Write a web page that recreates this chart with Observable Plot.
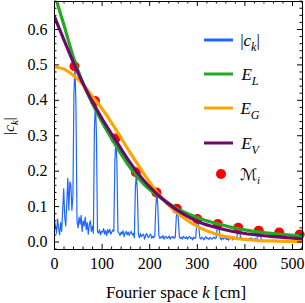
<!DOCTYPE html>
<html><head><meta charset="utf-8">
<script src="https://cdn.jsdelivr.net/npm/d3@7"></script>
<script src="https://cdn.jsdelivr.net/npm/@observablehq/plot@0.6"></script>
<style>body{margin:0;background:#fff;}</style>
</head><body><div id="chart"></div>
<script>
// |c_k| sampled every kStep cm
const kStep = 2.15;
const ckValues = [
  0.060, 0.045, 0.025, 0.065, 0.040, 0.020, 0.055, 0.030, 0.090, 0.150, 0.070, 0.045, 0.110, 0.180, 0.090, 0.170, 0.160, 0.090, 0.130,
  0.42, 0.495, 0.38,
  0.060, 0.040, 0.070, 0.050, 0.075, 0.030, 0.060, 0.045, 0.070, 0.035, 0.055, 0.022, 0.050, 0.060, 0.030, 0.045, 0.025,
  0.32, 0.395, 0.30,
  0.030, 0.025, 0.035, 0.020, 0.030, 0.028, 0.038, 0.022, 0.032, 0.018, 0.035, 0.026, 0.036, 0.022, 0.028, 0.034, 0.030,
  0.23, 0.29, 0.22,
  0.030, 0.025, 0.018, 0.028, 0.022, 0.032, 0.015, 0.025, 0.030, 0.020, 0.028, 0.018, 0.026, 0.030, 0.020, 0.024, 0.012,
  0.15, 0.195, 0.14,
  0.020, 0.012, 0.024, 0.015, 0.020, 0.022, 0.008, 0.018, 0.024, 0.016, 0.012, 0.020, 0.022, 0.010, 0.016, 0.012, 0.018,
  0.10, 0.14, 0.10,
  0.018, 0.010, 0.015, 0.012, 0.018, 0.008, 0.014, 0.016, 0.010, 0.012, 0.017, 0.008, 0.014, 0.012, 0.016, 0.010, 0.013,
  0.07, 0.095, 0.065,
  0.015, 0.010, 0.014, 0.008, 0.016, 0.012, 0.010, 0.015, 0.008, 0.013, 0.016, 0.010, 0.012, 0.006, 0.014, 0.010, 0.012,
  0.05, 0.065, 0.045,
  0.012, 0.008, 0.014, 0.010, 0.006, 0.012, 0.015, 0.009, 0.011, 0.007, 0.013, 0.010, 0.008, 0.012, 0.014, 0.009, 0.011,
  0.04, 0.05, 0.035,
  0.010, 0.006, 0.012, 0.008, 0.011, 0.014, 0.007, 0.010, 0.005, 0.012, 0.009, 0.011, 0.006, 0.010, 0.013, 0.008, 0.010,
  0.03, 0.04, 0.03,
  0.008, 0.012, 0.006, 0.010, 0.005, 0.011, 0.008, 0.004, 0.010, 0.007, 0.012, 0.006, 0.009, 0.005, 0.010, 0.007, 0.009,
  0.025, 0.032, 0.022,
  0.008, 0.006
];

// fitted envelopes, read at these k
const curveK = [0, 20, 40, 60, 80, 100, 130, 160, 190, 220, 250, 280, 310, 340, 370, 400, 430, 460, 490, 521];
const envL = [0.700, 0.612, 0.520, 0.448, 0.390, 0.338, 0.270, 0.208, 0.160, 0.128, 0.100, 0.080, 0.064, 0.052, 0.042, 0.034, 0.028, 0.024, 0.020, 0.017];
const envG = [0.494, 0.488, 0.470, 0.445, 0.410, 0.376, 0.315, 0.250, 0.188, 0.132, 0.091, 0.060, 0.037, 0.022, 0.013, 0.007, 0.004, 0.003, 0.002, 0.001];
const envV = [0.636, 0.570, 0.506, 0.447, 0.395, 0.348, 0.284, 0.222, 0.170, 0.130, 0.097, 0.072, 0.053, 0.041, 0.031, 0.024, 0.019, 0.015, 0.012, 0.009];

// maxima M_i
const maxK = [42, 85, 128, 171, 214, 257, 300, 343, 386, 429, 472, 515];
const maxVal = [0.496, 0.398, 0.292, 0.197, 0.140, 0.094, 0.065, 0.051, 0.040, 0.032, 0.027, 0.021];

const xTicks = [0, 100, 200, 300, 400, 500];
const yTicks = [0.0, 0.1, 0.2, 0.3, 0.4, 0.5, 0.6];
const xMinor = d3.range(0, 521, 20).filter(v => v % 100 !== 0);
const yMinor = d3.range(-1, 35).map(i => i * 0.02).filter(v => Math.abs(v * 10 - Math.round(v * 10)) > 1e-6);

const W = 305, H = 303;
const mL = 54, mR = 3, mT = 1, mB = 54;
const xDomain = [0, 521], yDomain = [-0.0212, 0.679];
const pxX = (W - mL - mR) / (xDomain[1] - xDomain[0]);
const pxY = (H - mT - mB) / (yDomain[1] - yDomain[0]);
const majLen = 5, minLen = 2.5;

const ck = ckValues.map((v, i) => ({k: i * kStep, v}));
const env = curveK.map((k, i) => ({k, L: envL[i], G: envG[i], V: envV[i]}));
const maxima = maxK.map((k, i) => ({k, v: maxVal[i]}));

const C = {blue: "#1f66ff", green: "#22aa22", orange: "#ffa500", purple: "#6a0a6a", red: "#ff0000"};

function xTickRules(ticks, len) {
  const dy = len / pxY;
  return [
    Plot.ruleX(ticks, {x: d => d, y1: yDomain[0], y2: yDomain[0] + dy, stroke: "black", strokeWidth: 1}),
    Plot.ruleX(ticks, {x: d => d, y1: yDomain[1], y2: yDomain[1] - dy, stroke: "black", strokeWidth: 1})
  ];
}
function yTickRules(ticks, len) {
  const dx = len / pxX;
  return [
    Plot.ruleY(ticks, {y: d => d, x1: xDomain[0], x2: xDomain[0] + dx, stroke: "black", strokeWidth: 1}),
    Plot.ruleY(ticks, {y: d => d, x1: xDomain[1], x2: xDomain[1] - dx, stroke: "black", strokeWidth: 1})
  ];
}

const chart = Plot.plot({
  width: W, height: H,
  marginLeft: mL, marginRight: mR, marginTop: mT, marginBottom: mB,
  x: {domain: xDomain},
  y: {domain: yDomain},
  style: {fontFamily: '"Liberation Serif", "Times New Roman", serif', fontSize: "16px", background: "white", color: "black"},
  marks: [
    Plot.line(ck, {x: "k", y: "v", stroke: C.blue, strokeWidth: 1.2, clip: true}),
    Plot.dot(maxima, {x: "k", y: "v", r: 5, fill: C.red, stroke: "none"}),
    Plot.line(env, {x: "k", y: "L", stroke: C.green, strokeWidth: 3.2, curve: "monotone-x", clip: true}),
    Plot.line(env, {x: "k", y: "G", stroke: C.orange, strokeWidth: 3.2, curve: "monotone-x", clip: true}),
    Plot.line(env, {x: "k", y: "V", stroke: C.purple, strokeWidth: 3.2, curve: "monotone-x", clip: true}),
    ...xTickRules(xTicks, majLen),
    ...xTickRules(xMinor, minLen),
    ...yTickRules(yTicks, majLen),
    ...yTickRules(yMinor, minLen),
    Plot.frame({stroke: "black", strokeWidth: 1}),
    Plot.axisX(xTicks, {tickSize: 0, tickPadding: 8, fontSize: 16, label: null, tickFormat: d => String(d)}),
    Plot.axisY(yTicks, {tickSize: 0, tickPadding: 7, fontSize: 16, label: null, tickFormat: d3.format(".1f")})
  ]
});
document.getElementById("chart").appendChild(chart);

const svg = d3.select(chart);
const serif = '"Liberation Serif", "Times New Roman", serif';

function mathText(sel, parts, size) {
  const t = sel.append("text").attr("font-family", serif).attr("font-size", size).attr("fill", "black");
  let shift = 0;
  for (const p of parts) {
    const want = p.sub ? Math.round(size * 0.28) : 0;
    const ts = t.append("tspan").text(p.t)
      .attr("font-style", p.it ? "italic" : "normal")
      .attr("font-size", p.sub ? Math.round(size * 0.7) : size);
    if (p.font) ts.attr("font-family", p.font);
    if (want !== shift) { ts.attr("dy", want - shift); shift = want; }
  }
  return t;
}

// x label
mathText(svg.append("g").attr("transform", "translate(176,298)"),
  [{t: "Fourier space "}, {t: "k", it: true}, {t: " [cm]"}], 17)
  .attr("text-anchor", "middle");

// y label
mathText(svg.append("g").attr("transform", "translate(14,126) rotate(-90)"),
  [{t: "|"}, {t: "c", it: true}, {t: "k", it: true, sub: true}, {t: "|"}], 15)
  .attr("text-anchor", "middle");

// legend
const legend = svg.append("g");
const entries = [
  {y: 40, color: C.blue, parts: [{t: "|"}, {t: "c", it: true}, {t: "k", it: true, sub: true}, {t: "|"}]},
  {y: 74, color: C.green, parts: [{t: "E", it: true}, {t: "L", it: true, sub: true}]},
  {y: 108, color: C.orange, parts: [{t: "E", it: true}, {t: "G", it: true, sub: true}]},
  {y: 143, color: C.purple, parts: [{t: "E", it: true}, {t: "V", it: true, sub: true}]}
];
for (const e of entries) {
  legend.append("line").attr("x1", 204).attr("x2", 233).attr("y1", e.y).attr("y2", e.y)
    .attr("stroke", e.color).attr("stroke-width", 3);
  mathText(legend.append("g").attr("transform", `translate(250,${e.y + 6})`), e.parts, 17);
}
legend.append("circle").attr("cx", 221).attr("cy", 174).attr("r", 5).attr("fill", C.red);
mathText(legend.append("g").attr("transform", "translate(250,180)"),
  [{t: "\u2133", font: '"DejaVu Serif", "DejaVu Sans", serif'}, {t: "i", it: true, sub: true}], 16);
</script>
</body></html>
